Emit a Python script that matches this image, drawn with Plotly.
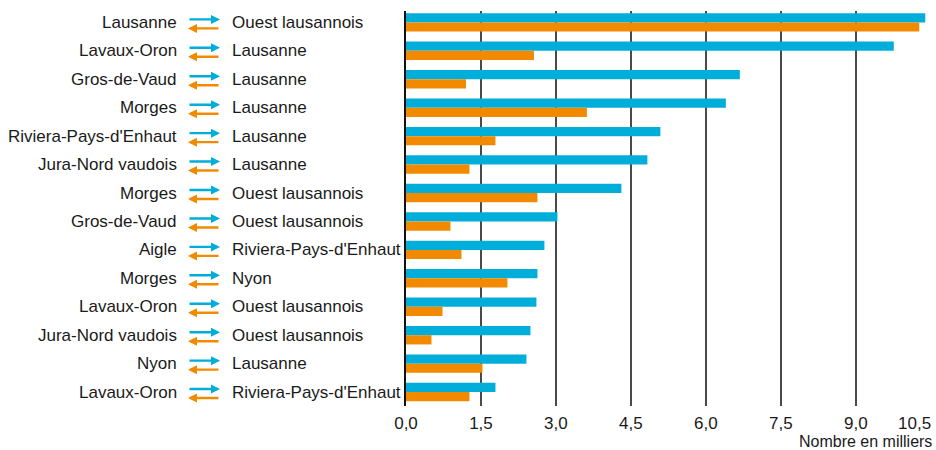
import plotly.graph_objects as go

# ---- data ----
origins = ["Lausanne", "Lavaux-Oron", "Gros-de-Vaud", "Morges", "Riviera-Pays-d'Enhaut",
           "Jura-Nord vaudois", "Morges", "Gros-de-Vaud", "Aigle", "Morges",
           "Lavaux-Oron", "Jura-Nord vaudois", "Nyon", "Lavaux-Oron"]
destinations = ["Ouest lausannois", "Lausanne", "Lausanne", "Lausanne", "Lausanne",
                "Lausanne", "Ouest lausannois", "Ouest lausannois", "Riviera-Pays-d'Enhaut", "Nyon",
                "Ouest lausannois", "Ouest lausannois", "Lausanne", "Riviera-Pays-d'Enhaut"]
forward_values = [10.39, 9.76, 6.68, 6.40, 5.09, 4.83, 4.31, 3.03, 2.77, 2.63, 2.61, 2.49, 2.41, 1.79]
backward_values = [10.27, 2.56, 1.20, 3.62, 1.79, 1.27, 2.63, 0.89, 1.11, 2.03, 0.73, 0.51, 1.53, 1.27]
tick_values = [0, 1.5, 3.0, 4.5, 6.0, 7.5, 9.0, 10.5]
tick_labels = ["0,0", "1,5", "3,0", "4,5", "6,0", "7,5", "9,0", "10,5"]
axis_title = "Nombre en milliers"

BLUE = "#00AED9"
ORANGE = "#F28A00"
TEXT = "#1a1a1a"
FONT = "Liberation Sans, Arial, sans-serif"

categories = [f"{o} ⇄ {d} #{i}" for i, (o, d) in enumerate(zip(origins, destinations))]

fig = go.Figure()
fig.add_trace(go.Bar(y=categories, x=forward_values, orientation="h",
                     marker=dict(color=BLUE, line=dict(width=0)), showlegend=False))
fig.add_trace(go.Bar(y=categories, x=backward_values, orientation="h",
                     marker=dict(color=ORANGE, line=dict(width=0)), showlegend=False))

annotations = []
for cat, o, d in zip(categories, origins, destinations):
    annotations.append(dict(xref="paper", yref="y", x=0, y=cat, xshift=-227, text=o,
                            xanchor="right", yanchor="middle", showarrow=False,
                            font=dict(family=FONT, size=17, color=TEXT)))
    annotations.append(dict(xref="paper", yref="y", x=0, y=cat, xshift=-176, text=d,
                            xanchor="left", yanchor="middle", showarrow=False,
                            font=dict(family=FONT, size=17, color=TEXT)))
    annotations.append(dict(xref="paper", yref="y", x=0, y=cat, xshift=-186, yshift=3,
                            text="", showarrow=True, ax=-32, ay=0, axref="pixel", ayref="pixel",
                            arrowhead=2, arrowsize=0.75, arrowwidth=2.4, arrowcolor=BLUE))
    annotations.append(dict(xref="paper", yref="y", x=0, y=cat, xshift=-218, yshift=-6,
                            text="", showarrow=True, ax=32, ay=0, axref="pixel", ayref="pixel",
                            arrowhead=2, arrowsize=0.75, arrowwidth=2.4, arrowcolor=ORANGE))

# last tick label drawn right-aligned so it stays inside the page
annotations.append(dict(xref="x", yref="paper", x=tick_values[-1], y=0, yshift=-6, xshift=2,
                        text=tick_labels[-1], xanchor="right", yanchor="top", showarrow=False,
                        font=dict(family=FONT, size=17, color=TEXT)))
annotations.append(dict(xref="paper", yref="paper", x=1, y=0, yshift=-25, xshift=3,
                        text=axis_title, xanchor="right", yanchor="top", showarrow=False,
                        font=dict(family=FONT, size=16, color=TEXT)))

fig.update_layout(
    width=936, height=450,
    margin=dict(l=406, r=5, t=11, b=44),
    plot_bgcolor="white", paper_bgcolor="white",
    barmode="group", bargap=0.35, bargroupgap=0,
    annotations=annotations,
    font=dict(family=FONT, color=TEXT),
    xaxis=dict(range=[0, 10.505], tickmode="array", tickvals=tick_values,
               ticktext=tick_labels[:-1] + [""], tickfont=dict(family=FONT, size=17, color=TEXT),
               ticklabelstandoff=5,
               showgrid=True, gridcolor="#4a4a4a", gridwidth=1.5, zeroline=False,
               ticks="", showline=False, fixedrange=True),
    yaxis=dict(categoryorder="array", categoryarray=categories, range=[13.49, -0.40],
               showticklabels=False, ticks="", showgrid=False, zeroline=False,
               showline=True, linecolor="#111111", linewidth=1.5, fixedrange=True),
)

fig.write_html("out.html", config={"displayModeBar": False},
               post_script="document.body.style.margin='0';document.body.style.overflow='hidden';")
